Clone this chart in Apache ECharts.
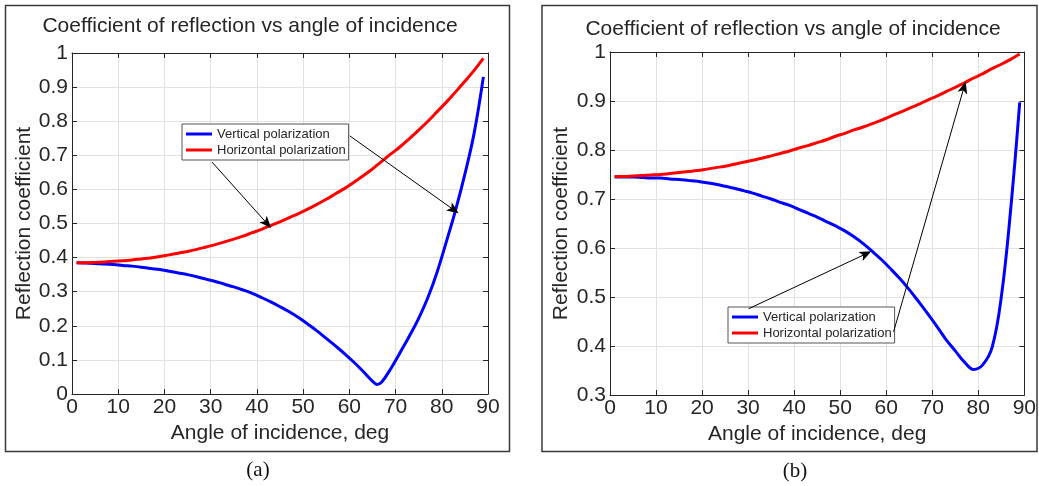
<!DOCTYPE html>
<html>
<head>
<meta charset="utf-8">
<script src="https://cdn.jsdelivr.net/npm/echarts@6/dist/echarts.min.js"></script>
<style>
  html, body { margin: 0; padding: 0; background: #fff; }
  #chart { width: 1039px; height: 486px; }
</style>
</head>
<body>
<div id="chart"></div>
<script>
// angle of incidence, deg
const angleA = [1, 3, 5, 7, 9, 11, 13, 15, 17, 19, 21, 23, 25, 27, 29, 31, 33, 35, 37, 39, 41, 43, 45,
  47, 49, 51, 53, 55, 57, 59, 61, 63, 65, 66, 67, 69, 71, 73, 75, 77, 79, 81, 83, 85, 87, 89];
const angleB = [1, 3, 5, 7, 9, 11, 13, 15, 17, 19, 21, 23, 25, 27, 29, 31, 33, 35, 37, 39, 41, 43, 45,
  47, 49, 51, 53, 55, 57, 59, 61, 63, 65, 67, 69, 71, 73, 75, 77, 79, 81, 83, 85, 87, 89];

// panel (a)
const vertA = [0.385, 0.384, 0.383, 0.381, 0.380, 0.377, 0.375, 0.372, 0.368, 0.365, 0.360, 0.355, 0.350,
  0.344, 0.337, 0.330, 0.322, 0.314, 0.305, 0.295, 0.283, 0.270, 0.256, 0.241, 0.224, 0.205, 0.185, 0.163,
  0.141, 0.118, 0.093, 0.066, 0.038, 0.028, 0.035, 0.075, 0.122, 0.170, 0.222, 0.283, 0.358, 0.447, 0.540,
  0.645, 0.765, 0.930];
const horizA = [0.385, 0.385, 0.386, 0.387, 0.389, 0.391, 0.393, 0.396, 0.399, 0.403, 0.408, 0.413, 0.418,
  0.424, 0.431, 0.438, 0.446, 0.454, 0.463, 0.473, 0.483, 0.494, 0.505, 0.517, 0.529, 0.542, 0.556, 0.571,
  0.587, 0.603, 0.621, 0.640, 0.660, 0.671, 0.682, 0.704, 0.725, 0.749, 0.774, 0.800, 0.828, 0.856, 0.886,
  0.917, 0.949, 0.984];

// panel (b)
const vertB = [0.745, 0.745, 0.745, 0.744, 0.743, 0.743, 0.741, 0.740, 0.738, 0.736, 0.733, 0.730, 0.726,
  0.722, 0.717, 0.712, 0.706, 0.700, 0.693, 0.687, 0.679, 0.671, 0.663, 0.654, 0.645, 0.635, 0.623, 0.609,
  0.593, 0.576, 0.557, 0.537, 0.515, 0.491, 0.466, 0.440, 0.413, 0.390, 0.367, 0.352, 0.362, 0.397, 0.500,
  0.675, 0.897];
const horizB = [0.746, 0.746, 0.747, 0.748, 0.749, 0.750, 0.752, 0.754, 0.756, 0.758, 0.761, 0.764, 0.767,
  0.771, 0.775, 0.779, 0.783, 0.788, 0.793, 0.798, 0.804, 0.809, 0.815, 0.821, 0.828, 0.834, 0.841, 0.847,
  0.854, 0.861, 0.869, 0.877, 0.885, 0.893, 0.902, 0.910, 0.919, 0.928, 0.937, 0.947, 0.956, 0.966, 0.975,
  0.985, 0.996];

// annotation arrows, [start, end] in data units
const arrowsA = [[[30.3, 0.680], [42.2, 0.500]], [[60.1, 0.757], [82.6, 0.540]]];
const arrowsB = [[[30.1, 0.476], [55.6, 0.588]], [[61.6, 0.429], [76.9, 0.928]]];

const seriesNames = ['Vertical polarization', 'Horizontal polarization'];
const titleText = 'Coefficient of reflection vs angle of incidence';

const TXT = '#262626';
const FONT = 'Liberation Sans, Arial, sans-serif';
const SERIF = 'Liberation Serif, Times New Roman, serif';

const pairs = (xs, ys) => xs.map((x, i) => [x, ys[i]]);
const fmt = v => String(Math.round(v * 10) / 10);

const chart = echarts.init(document.getElementById('chart'), null, { renderer: 'canvas' });

//坐标轴（主轴带刻度标签，对侧轴只画刻度）
const mainX = (grid, gap) => ({
  type: 'value', gridIndex: grid, min: 0, max: 90, interval: 10,
  name: 'Angle of incidence, deg', nameLocation: 'middle', nameGap: gap,
  nameTextStyle: { color: TXT, fontSize: 21, fontFamily: FONT },
  axisLine: { show: true, onZero: false, lineStyle: { color: TXT, width: 1 } },
  axisTick: { show: true, inside: true, length: 5, lineStyle: { color: TXT } },
  axisLabel: { color: TXT, fontSize: 21, fontFamily: FONT, margin: 3 },
  splitLine: { show: true, lineStyle: { color: '#e1e1e1', width: 1 } }
});
const sideX = grid => ({
  type: 'value', gridIndex: grid, min: 0, max: 90, interval: 10, position: 'top',
  axisLine: { show: true, onZero: false, lineStyle: { color: TXT, width: 1 } },
  axisTick: { show: true, inside: true, length: 5, lineStyle: { color: TXT } },
  axisLabel: { show: false }, splitLine: { show: false }
});
const mainY = (grid, min, gap) => ({
  type: 'value', gridIndex: grid, min: min, max: 1, interval: 0.1,
  name: 'Reflection coefficient', nameLocation: 'middle', nameGap: gap,
  nameTextStyle: { color: TXT, fontSize: 21, fontFamily: FONT },
  axisLine: { show: true, onZero: false, lineStyle: { color: TXT, width: 1 } },
  axisTick: { show: true, inside: true, length: 5, lineStyle: { color: TXT } },
  axisLabel: { color: TXT, fontSize: 21, fontFamily: FONT, margin: 4, formatter: fmt },
  splitLine: { show: true, lineStyle: { color: '#e1e1e1', width: 1 } }
});
const sideY = (grid, min) => ({
  type: 'value', gridIndex: grid, min: min, max: 1, interval: 0.1, position: 'right',
  axisLine: { show: true, onZero: false, lineStyle: { color: TXT, width: 1 } },
  axisTick: { show: true, inside: true, length: 5, lineStyle: { color: TXT } },
  axisLabel: { show: false }, splitLine: { show: false }
});

const curve = (name, color, xIdx, yIdx, data, arrows) => ({
  name: name, type: 'line', xAxisIndex: xIdx, yAxisIndex: yIdx,
  data: data, showSymbol: false, smooth: 0.4, silent: true,
  lineStyle: { color: color, width: 3 }, itemStyle: { color: color },
  markLine: arrows ? {
    silent: true,
    symbol: ['none', 'path://M5,0L10,12L5,9L0,12Z'], symbolSize: [10, 12],
    label: { show: false },
    lineStyle: { color: '#000', width: 1, type: 'solid' },
    itemStyle: { color: '#000' },
    data: arrows.map(a => [{ coord: a[0] }, { coord: a[1] }])
  } : undefined
});

const legendBox = (left, top) => ({
  data: seriesNames, orient: 'vertical', left: left, top: top,
  icon: 'rect', itemWidth: 26, itemHeight: 3, itemGap: 0,
  selectedMode: false, backgroundColor: '#fff',
  borderColor: '#555', borderWidth: 1, padding: [2, 3, 2, 4],
  textStyle: { color: TXT, fontSize: 13, fontFamily: FONT, lineHeight: 16 }
});

const option = {
  animation: false,
  grid: [
    { left: 72, right: 551, top: 53, bottom: 92 },
    { left: 610, right: 11, top: 52, bottom: 91 }
  ],
  xAxis: [mainX(0, 24), sideX(0), mainX(1, 25), sideX(1)],
  yAxis: [mainY(0, 0, 37), sideY(0, 0), mainY(1, 0.3, 38), sideY(1, 0.3)],
  legend: [legendBox(182, 124), legendBox(728, 307)],
  series: [
    curve(seriesNames[0], '#0000ff', 0, 0, pairs(angleA, vertA)),
    curve(seriesNames[1], '#ff0000', 0, 0, pairs(angleA, horizA), arrowsA),
    curve(seriesNames[0], '#0000ff', 2, 2, pairs(angleB, vertB)),
    curve(seriesNames[1], '#ff0000', 2, 2, pairs(angleB, horizB), arrowsB)
  ],
  graphic: [
    { type: 'rect', shape: { x: 5.5, y: 5.5, width: 504, height: 446 }, style: { fill: 'none', stroke: '#3a3a3a', lineWidth: 1.5 }, silent: true, z: -1 },
    { type: 'rect', shape: { x: 542, y: 5.5, width: 495, height: 446 }, style: { fill: 'none', stroke: '#3a3a3a', lineWidth: 1.5 }, silent: true, z: -1 },
    { type: 'text', x: 250, y: 26, style: { text: titleText, fill: TXT, font: '21px ' + FONT, textAlign: 'center', textVerticalAlign: 'middle' } },
    { type: 'text', x: 793, y: 29, style: { text: titleText, fill: TXT, font: '21px ' + FONT, textAlign: 'center', textVerticalAlign: 'middle' } },
    { type: 'text', x: 258, y: 470, style: { text: '(a)', fill: '#111', font: '21px ' + SERIF, textAlign: 'center', textVerticalAlign: 'middle' } },
    { type: 'text', x: 795, y: 471, style: { text: '(b)', fill: '#111', font: '21px ' + SERIF, textAlign: 'center', textVerticalAlign: 'middle' } }
  ]
};

chart.setOption(option);
</script>
</body>
</html>
